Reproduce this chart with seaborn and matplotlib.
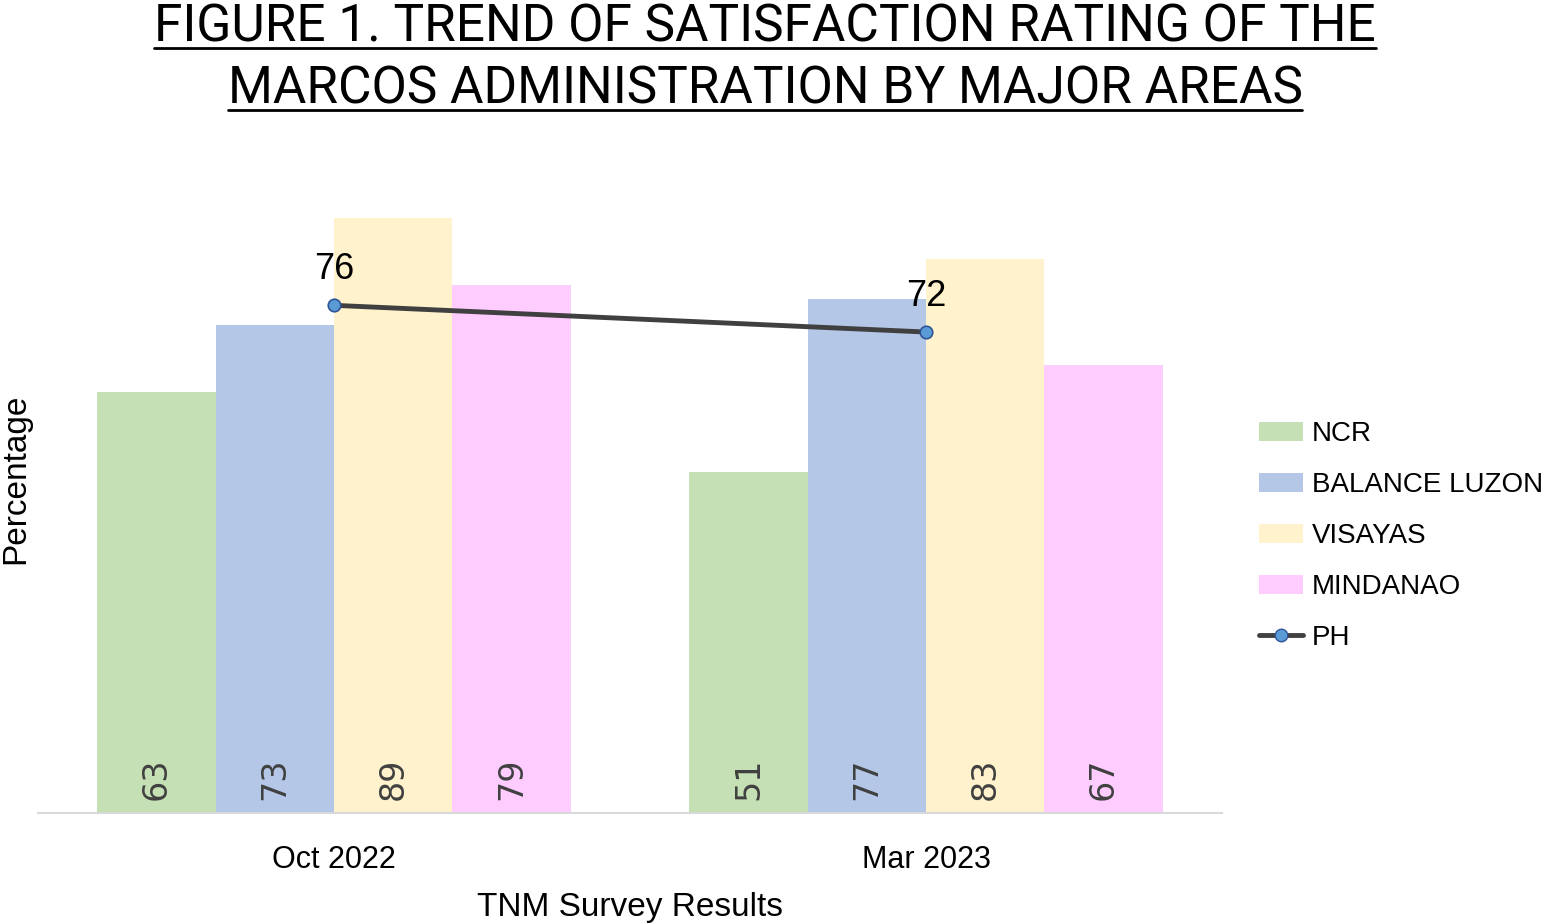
import pandas as pd
import matplotlib.pyplot as plt
import seaborn as sns
from matplotlib.lines import Line2D

# Chart data
periods = ['Oct 2022', 'Mar 2023']
areas = ['NCR', 'BALANCE LUZON', 'VISAYAS', 'MINDANAO']
ncr = [63, 51]
balance_luzon = [73, 77]
visayas = [89, 83]
mindanao = [79, 67]
ph = [76, 72]

area_colors = ['#C5E0B4', '#B4C7E7', '#FFF2CC', '#FFCCFF']

rows = []
for area, vals in zip(areas, [ncr, balance_luzon, visayas, mindanao]):
    for period, v in zip(periods, vals):
        rows.append({'period': period, 'area': area, 'value': v})
df = pd.DataFrame(rows)

sns.set_style('white')
plt.rcParams['font.family'] = ['Liberation Sans', 'DejaVu Sans']
plt.rcParams['text.color'] = 'black'
plt.rcParams['axes.labelcolor'] = 'black'
plt.rcParams['xtick.color'] = 'black'

W, H = 1545, 923
fig = plt.figure(figsize=(W / 100, H / 100), dpi=100)
ax = fig.add_axes([38 / W, 1 - 813 / H, (1222 - 38) / W, 668 / H])

sns.barplot(data=df, x='period', y='value', hue='area', order=periods,
            hue_order=areas, palette=area_colors, width=0.8,
            saturation=1, linewidth=0, ax=ax)

# value labels inside bars, at the bottom
for container in ax.containers:
    for p in container:
        ax.text(p.get_x() + p.get_width() / 2, 2, f'{p.get_height():.0f}',
                rotation=90, ha='center', va='bottom', fontsize=24,
                color='#404040', family=['DejaVu Sans'])

# PH trend line
sns.pointplot(x=periods, y=ph, color='#404040', markers='o', linewidth=3.5,
              markersize=9, errorbar=None, label='PH', ax=ax)
ph_line = ax.lines[-1]
ph_line.set_markerfacecolor('#5B9BD5')
ph_line.set_markeredgecolor('#2F5597')
ph_line.set_markeredgewidth(1.2)
for x, y in ph_line.get_xydata():
    ax.annotate(f'{y:.0f}', (x, y), xytext=(0, 13), textcoords='offset points',
                ha='center', va='bottom', fontsize=26, color='black')

ax.set_xlim(-0.5, 1.5)
ax.set_ylim(0, 100)
ax.set_yticks([])
for s in ['left', 'top', 'right']:
    ax.spines[s].set_visible(False)
ax.spines['bottom'].set_color('#D9D9D9')
ax.spines['bottom'].set_linewidth(1.5)
ax.tick_params(axis='x', length=0, pad=23, labelsize=22)
ax.set_xlabel('TNM Survey Results', fontsize=24, labelpad=12)
ax.set_ylabel('Percentage', fontsize=24, labelpad=4)
ax.yaxis.set_label_coords(-0.006, 0.5)

# legend
handles, labels = ax.get_legend_handles_labels()
if ax.get_legend() is not None:
    ax.get_legend().remove()
bar_handles = [h for h, l in zip(handles, labels) if l in areas]
ph_handle = Line2D([0], [0], color='#404040', lw=3.5, marker='o', markersize=9,
                   markerfacecolor='#5B9BD5', markeredgecolor='#2F5597')
fig.legend(bar_handles + [ph_handle], areas + ['PH'], loc='center left',
           bbox_to_anchor=(1259 / W, 1 - 536 / H), frameon=False, fontsize=20,
           handlelength=1.6, handletextpad=0.3, labelspacing=0.9,
           borderpad=0, borderaxespad=0)

# underlined two-line title
title_lines = ['FIGURE 1. TREND OF SATISFACTION RATING OF THE',
               'MARCOS ADMINISTRATION BY MAJOR AREAS']
renderer = fig.canvas.get_renderer()
for i, line in enumerate(title_lines):
    base = 1 - (42 + 62 * i) / H
    t = fig.text(765 / W, base, line, ha='center', va='baseline', fontsize=37,
                 family=['Roboto', 'Liberation Sans'], color='black')
    bb = t.get_window_extent(renderer)
    uy = base - 6 / H
    fig.add_artist(Line2D([bb.x0 / W, bb.x1 / W], [uy, uy], color='black',
                          lw=2, transform=fig.transFigure))

fig.savefig('out.png', dpi=100)
